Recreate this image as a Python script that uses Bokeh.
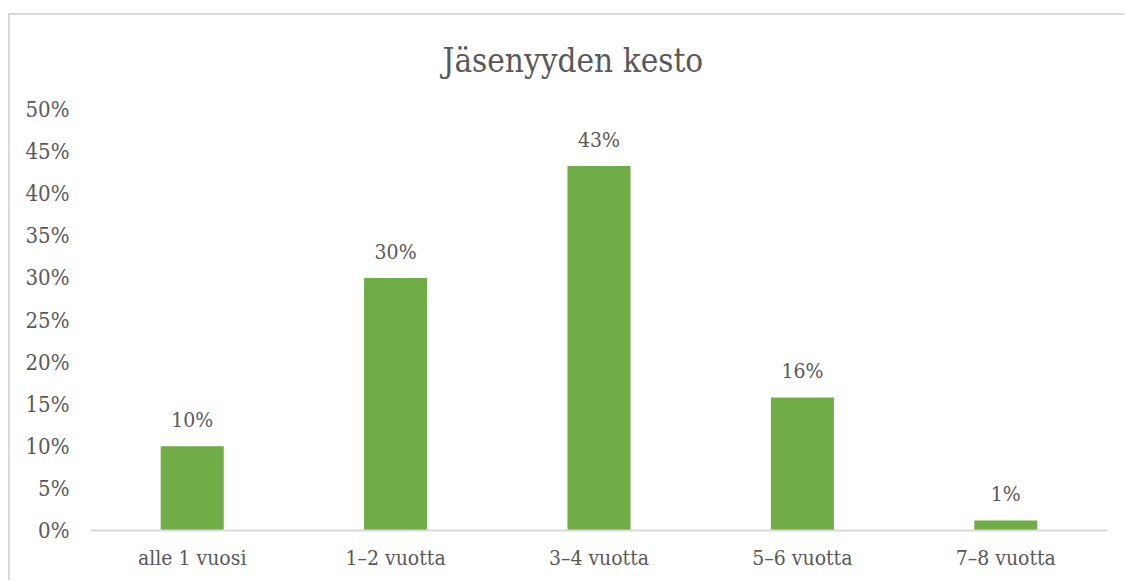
from bokeh.plotting import figure
from bokeh.models import ColumnDataSource, FixedTicker, PrintfTickFormatter, Range1d
from bokeh.core.properties import value
from bokeh.embed import file_html
from bokeh.resources import INLINE

categories = ["alle 1 vuosi", "1–2 vuotta", "3–4 vuotta", "5–6 vuotta", "7–8 vuotta"]
shares = [10.0, 30.0, 43.3, 15.8, 1.2]
share_labels = ["10%", "30%", "43%", "16%", "1%"]
y_ticks = [0, 5, 10, 15, 20, 25, 30, 35, 40, 45, 50]
chart_title = "Jäsenyyden kesto"

FONT = "DejaVu Serif Condensed, DejaVu Serif"
TXT = "#595959"
LINE = "#d9d9d9"

src = ColumnDataSource(dict(cat=categories, val=shares, lab=share_labels))

p = figure(x_range=categories, y_range=Range1d(0, 50), width=1124, height=580,
           output_backend="svg", toolbar_location=None, title=chart_title,
           min_border_left=90, min_border_right=17, min_border_top=109, min_border_bottom=50)
p.border_fill_alpha = 0
p.styles = {
    "background": (f"linear-gradient({LINE},{LINE}) 8px 13px / 1117px 2px no-repeat, "
                   f"linear-gradient({LINE},{LINE}) 8px 13px / 2px 570px no-repeat, white"),
}

p.title.align = "left"
p.title.offset = 352
p.title.vertical_align = "top"
p.title.standoff = 56
p.title.text_font = FONT
p.title.text_font_size = "33px"
p.title.text_font_style = "normal"
p.title.text_color = TXT

p.vbar(x="cat", top="val", width=0.31, source=src, color="#70AD47", line_color=None)
p.text(x="cat", y="val", text="lab", source=src, text_align="center",
       text_baseline="alphabetic", y_offset=-26,
       text_font=value(FONT), text_font_size="21px", text_color=TXT)

p.outline_line_color = None
p.xgrid.grid_line_color = None
p.ygrid.grid_line_color = None

p.yaxis.ticker = FixedTicker(ticks=y_ticks)
p.yaxis.formatter = PrintfTickFormatter(format="%d%%")
p.yaxis.axis_line_color = None
p.yaxis.major_tick_line_color = None
p.yaxis.minor_tick_line_color = None
p.yaxis.major_label_standoff = 15
p.yaxis.major_label_text_font_size = "22px"

p.xaxis.axis_line_color = LINE
p.xaxis.axis_line_width = 2
p.xaxis.major_tick_line_color = None
p.xaxis.minor_tick_line_color = None
p.xaxis.major_label_standoff = 9
p.xaxis.major_label_text_font_size = "21px"

for ax in (p.xaxis, p.yaxis):
    ax.major_label_text_font = FONT
    ax.major_label_text_color = TXT

open("out.html", "w").write(file_html(p, INLINE))
